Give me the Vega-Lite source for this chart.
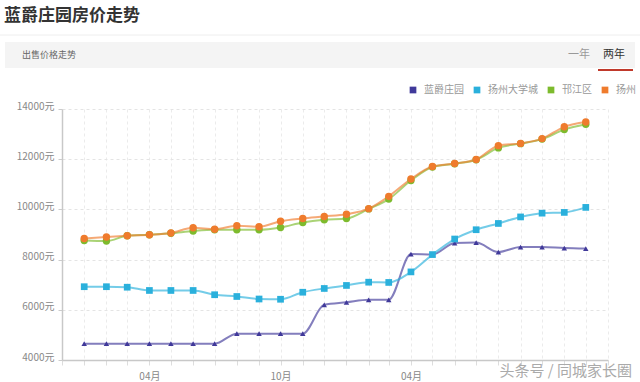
{
  "$schema": "https://vega.github.io/schema/vega-lite/v6.json",
  "width": 546,
  "height": 251,
  "autosize": {"type": "none"},
  "padding": {"left": 62, "top": 109, "right": 32, "bottom": 22},
  "background": "white",
  "title": {"text": "蓝爵庄园房价走势", "anchor": "start", "frame": "group", "dx": -58, "offset": 10, "fontSize": 17, "fontWeight": "bold", "color": "#333333", "font": "Noto Sans CJK SC"},
  "config": {"font": "Noto Sans CJK SC", "view": {"stroke": null}},
  "data": {"values": [
    {"date": "2016-01", "series": "蓝爵庄园", "price": 4650},
    {"date": "2016-02", "series": "蓝爵庄园", "price": 4650},
    {"date": "2016-03", "series": "蓝爵庄园", "price": 4650},
    {"date": "2016-04", "series": "蓝爵庄园", "price": 4650},
    {"date": "2016-05", "series": "蓝爵庄园", "price": 4650},
    {"date": "2016-06", "series": "蓝爵庄园", "price": 4650},
    {"date": "2016-07", "series": "蓝爵庄园", "price": 4650},
    {"date": "2016-08", "series": "蓝爵庄园", "price": 5050},
    {"date": "2016-09", "series": "蓝爵庄园", "price": 5050},
    {"date": "2016-10", "series": "蓝爵庄园", "price": 5050},
    {"date": "2016-11", "series": "蓝爵庄园", "price": 5050},
    {"date": "2016-12", "series": "蓝爵庄园", "price": 6200},
    {"date": "2017-01", "series": "蓝爵庄园", "price": 6300},
    {"date": "2017-02", "series": "蓝爵庄园", "price": 6400},
    {"date": "2017-03", "series": "蓝爵庄园", "price": 6400},
    {"date": "2017-04", "series": "蓝爵庄园", "price": 8220},
    {"date": "2017-05", "series": "蓝爵庄园", "price": 8200},
    {"date": "2017-06", "series": "蓝爵庄园", "price": 8660},
    {"date": "2017-07", "series": "蓝爵庄园", "price": 8680},
    {"date": "2017-08", "series": "蓝爵庄园", "price": 8300},
    {"date": "2017-09", "series": "蓝爵庄园", "price": 8500},
    {"date": "2017-10", "series": "蓝爵庄园", "price": 8500},
    {"date": "2017-11", "series": "蓝爵庄园", "price": 8460},
    {"date": "2017-12", "series": "蓝爵庄园", "price": 8440},
    {"date": "2016-01", "series": "扬州大学城", "price": 6920},
    {"date": "2016-02", "series": "扬州大学城", "price": 6920},
    {"date": "2016-03", "series": "扬州大学城", "price": 6900},
    {"date": "2016-04", "series": "扬州大学城", "price": 6770},
    {"date": "2016-05", "series": "扬州大学城", "price": 6770},
    {"date": "2016-06", "series": "扬州大学城", "price": 6770},
    {"date": "2016-07", "series": "扬州大学城", "price": 6600},
    {"date": "2016-08", "series": "扬州大学城", "price": 6530},
    {"date": "2016-09", "series": "扬州大学城", "price": 6430},
    {"date": "2016-10", "series": "扬州大学城", "price": 6420},
    {"date": "2016-11", "series": "扬州大学城", "price": 6700},
    {"date": "2016-12", "series": "扬州大学城", "price": 6850},
    {"date": "2017-01", "series": "扬州大学城", "price": 6970},
    {"date": "2017-02", "series": "扬州大学城", "price": 7100},
    {"date": "2017-03", "series": "扬州大学城", "price": 7090},
    {"date": "2017-04", "series": "扬州大学城", "price": 7510},
    {"date": "2017-05", "series": "扬州大学城", "price": 8200},
    {"date": "2017-06", "series": "扬州大学城", "price": 8820},
    {"date": "2017-07", "series": "扬州大学城", "price": 9190},
    {"date": "2017-08", "series": "扬州大学城", "price": 9440},
    {"date": "2017-09", "series": "扬州大学城", "price": 9700},
    {"date": "2017-10", "series": "扬州大学城", "price": 9850},
    {"date": "2017-11", "series": "扬州大学城", "price": 9880},
    {"date": "2017-12", "series": "扬州大学城", "price": 10080},
    {"date": "2016-01", "series": "邗江区", "price": 8760},
    {"date": "2016-02", "series": "邗江区", "price": 8740},
    {"date": "2016-03", "series": "邗江区", "price": 8950},
    {"date": "2016-04", "series": "邗江区", "price": 8990},
    {"date": "2016-05", "series": "邗江区", "price": 9050},
    {"date": "2016-06", "series": "邗江区", "price": 9140},
    {"date": "2016-07", "series": "邗江区", "price": 9190},
    {"date": "2016-08", "series": "邗江区", "price": 9190},
    {"date": "2016-09", "series": "邗江区", "price": 9190},
    {"date": "2016-10", "series": "邗江区", "price": 9280},
    {"date": "2016-11", "series": "邗江区", "price": 9480},
    {"date": "2016-12", "series": "邗江区", "price": 9590},
    {"date": "2017-01", "series": "邗江区", "price": 9640},
    {"date": "2017-02", "series": "邗江区", "price": 10020},
    {"date": "2017-03", "series": "邗江区", "price": 10410},
    {"date": "2017-04", "series": "邗江区", "price": 11150},
    {"date": "2017-05", "series": "邗江区", "price": 11690},
    {"date": "2017-06", "series": "邗江区", "price": 11820},
    {"date": "2017-07", "series": "邗江区", "price": 11980},
    {"date": "2017-08", "series": "邗江区", "price": 12450},
    {"date": "2017-09", "series": "邗江区", "price": 12620},
    {"date": "2017-10", "series": "邗江区", "price": 12800},
    {"date": "2017-11", "series": "邗江区", "price": 13180},
    {"date": "2017-12", "series": "邗江区", "price": 13390},
    {"date": "2016-01", "series": "扬州", "price": 8840},
    {"date": "2016-02", "series": "扬州", "price": 8900},
    {"date": "2016-03", "series": "扬州", "price": 8950},
    {"date": "2016-04", "series": "扬州", "price": 8990},
    {"date": "2016-05", "series": "扬州", "price": 9060},
    {"date": "2016-06", "series": "扬州", "price": 9270},
    {"date": "2016-07", "series": "扬州", "price": 9210},
    {"date": "2016-08", "series": "扬州", "price": 9350},
    {"date": "2016-09", "series": "扬州", "price": 9310},
    {"date": "2016-10", "series": "扬州", "price": 9530},
    {"date": "2016-11", "series": "扬州", "price": 9640},
    {"date": "2016-12", "series": "扬州", "price": 9720},
    {"date": "2017-01", "series": "扬州", "price": 9810},
    {"date": "2017-02", "series": "扬州", "price": 10030},
    {"date": "2017-03", "series": "扬州", "price": 10520},
    {"date": "2017-04", "series": "扬州", "price": 11210},
    {"date": "2017-05", "series": "扬州", "price": 11710},
    {"date": "2017-06", "series": "扬州", "price": 11830},
    {"date": "2017-07", "series": "扬州", "price": 11990},
    {"date": "2017-08", "series": "扬州", "price": 12540},
    {"date": "2017-09", "series": "扬州", "price": 12630},
    {"date": "2017-10", "series": "扬州", "price": 12820},
    {"date": "2017-11", "series": "扬州", "price": 13290},
    {"date": "2017-12", "series": "扬州", "price": 13480}
  ]},
  "encoding": {
    "x": {"field": "date", "type": "temporal",
      "scale": {"type": "utc", "domain": ["2015-12-01", "2018-01-01"]},
      "axis": {"title": null, "tickCount": {"interval": "month", "step": 1}, "labelOverlap": false,
        "labelExpr": "utcmonth(datum.value)==3 ? '04月' : ((utcmonth(datum.value)==9 && utcyear(datum.value)==2016) ? '10月' : '')",
        "grid": true, "gridDash": [3, 3], "gridColor": "#ebebeb", "domainColor": "#c8c8c8", "domainWidth": 1.5,
        "tickColor": "#dddddd", "tickSize": 5, "labelColor": "#888888", "labelFontSize": 10, "labelPadding": 6}},
    "y": {"field": "price", "type": "quantitative",
      "scale": {"domain": [4000, 14000], "nice": false, "zero": false},
      "axis": {"title": null, "values": [4000, 6000, 8000, 10000, 12000, 14000], "labelExpr": "datum.value + '元'",
        "gridDash": [3, 3], "gridColor": "#e4e4e4", "domainColor": "#c8c8c8", "domainWidth": 1.5,
        "tickColor": "#cccccc", "tickSize": 4, "labelColor": "#888888", "labelFontSize": 10,
        "labelBaseline": "alphabetic", "labelPadding": 4}},
    "color": {"field": "series", "type": "nominal",
      "scale": {"domain": ["蓝爵庄园", "扬州大学城", "邗江区", "扬州"], "range": ["#40399a", "#2ab0dc", "#7dbb2d", "#ef7b2d"]},
      "legend": {"orient": "none", "legendX": 346, "legendY": -24, "direction": "horizontal", "title": null,
        "symbolType": "square", "symbolSize": 45, "symbolStrokeWidth": 0, "symbolOpacity": 1,
        "labelFontSize": 10, "labelColor": "#999999", "columnPadding": 8, "labelOffset": 6}}
  },
  "layer": [
    {"data": {"values": [{}]}, "mark": {"type": "rule", "strokeWidth": 1},
      "encoding": {"x": {"value": -62}, "x2": {"value": 578}, "y": {"value": -74}, "y2": {"value": -74}, "color": {"value": "#eeeeee"}}},
    {"data": {"values": [{}]}, "mark": {"type": "rect"},
      "encoding": {"x": {"value": -57}, "x2": {"value": 573}, "y": {"value": -67}, "y2": {"value": -41}, "color": {"value": "#f4f4f4"}}},
    {"data": {"values": [{}]}, "mark": {"type": "text", "align": "left", "baseline": "middle", "fontSize": 9},
      "encoding": {"x": {"value": -40}, "y": {"value": -54}, "text": {"value": "出售价格走势"}, "color": {"value": "#666666"}}},
    {"data": {"values": [{}]}, "mark": {"type": "text", "align": "center", "baseline": "middle", "fontSize": 11},
      "encoding": {"x": {"value": 517}, "y": {"value": -54}, "text": {"value": "一年"}, "color": {"value": "#999999"}}},
    {"data": {"values": [{}]}, "mark": {"type": "text", "align": "center", "baseline": "middle", "fontSize": 11},
      "encoding": {"x": {"value": 552}, "y": {"value": -54}, "text": {"value": "两年"}, "color": {"value": "#333333"}}},
    {"data": {"values": [{}]}, "mark": {"type": "rule", "strokeWidth": 2},
      "encoding": {"x": {"value": 536}, "x2": {"value": 571}, "y": {"value": -39}, "y2": {"value": -39}, "color": {"value": "#c0392b"}}},
    {"mark": {"type": "line", "interpolate": "monotone", "strokeWidth": 2, "opacity": 0.65}},
    {"transform": [{"filter": "datum.series == '蓝爵庄园'"}],
      "mark": {"type": "point", "filled": true, "opacity": 1, "shape": "triangle-up", "size": 30}},
    {"transform": [{"filter": "datum.series == '扬州大学城'"}],
      "mark": {"type": "point", "filled": true, "opacity": 1, "shape": "square", "size": 45}},
    {"transform": [{"filter": "datum.series == '邗江区' || datum.series == '扬州'"}],
      "mark": {"type": "point", "filled": true, "opacity": 1, "shape": "circle", "size": 55}},
    {"data": {"values": [{}]}, "mark": {"type": "text", "align": "right", "baseline": "middle", "fontSize": 15},
      "encoding": {"x": {"value": 570}, "y": {"value": 262}, "text": {"value": "头条号 / 同城家长圈"}, "color": {"value": "#aaaaaa"}}}
  ]
}
